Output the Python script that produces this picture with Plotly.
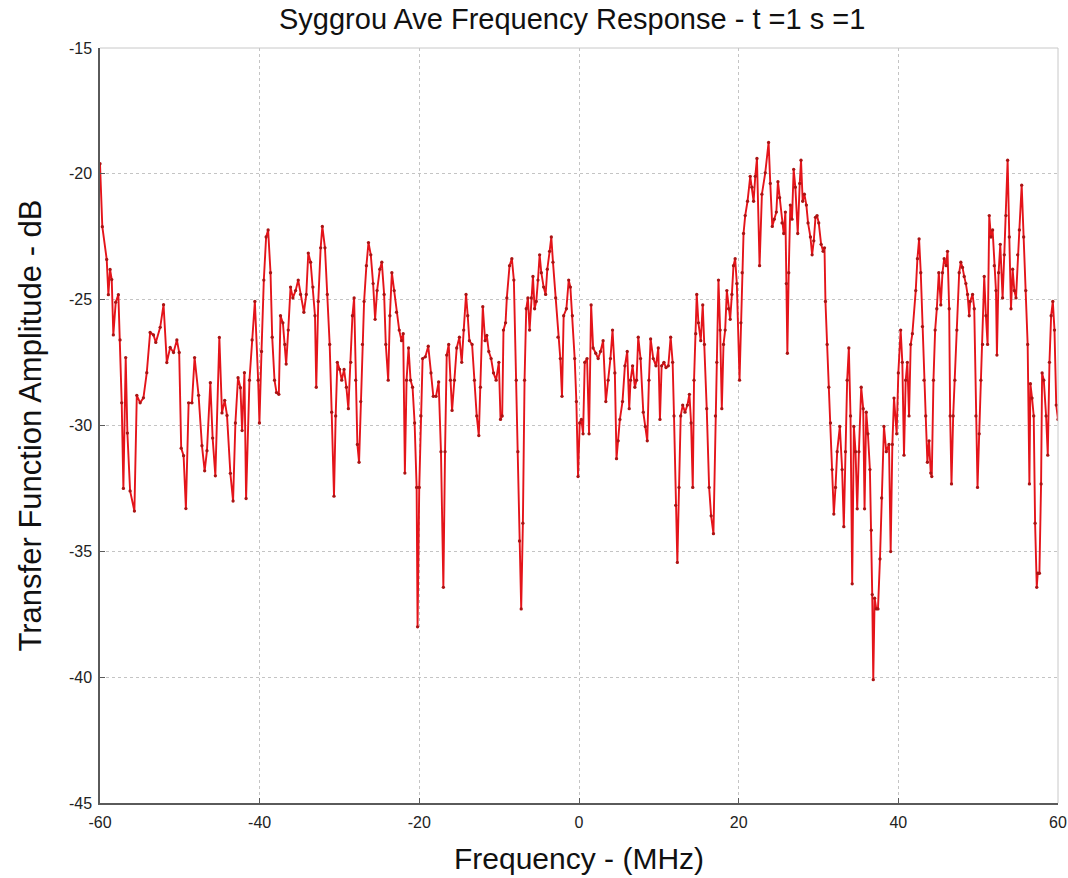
import plotly.graph_objects as go

# Frequency response samples (MHz, dB), grouped by 20 MHz band
freq_a = [-60.00, -59.71, -59.16, -58.95, -58.74, -58.53, -58.33, -58.03, -57.70, -57.49,
          -57.28, -57.07, -56.78, -56.57, -56.23, -55.69, -55.39, -54.97, -54.56, -54.14,
          -53.72, -53.30, -53.01, -52.46, -52.04, -51.63, -51.21, -50.79, -50.37, -50.08,
          -49.83, -49.53, -49.24, -48.90, -48.48, -48.15, -47.65, -47.23, -46.89, -46.60,
          -46.18, -45.89, -45.55, -45.05, -44.72, -44.38, -44.09, -43.67, -43.33, -43.04,
          -42.71, -42.41, -42.20, -41.91, -41.70, -41.28, -40.95]
amp_a = [-19.6, -22.1, -23.4, -24.8, -23.8, -24.2, -26.4, -25.1, -24.8, -26.6,
         -29.1, -32.5, -27.3, -30.3, -32.6, -33.4, -28.8, -29.1, -28.9, -27.9,
         -26.3, -26.4, -26.7, -26.1, -25.2, -27.5, -26.9, -27.1, -26.6, -27.1,
         -30.9, -31.2, -33.3, -29.1, -29.1, -27.3, -28.8, -30.8, -31.8, -31.0,
         -28.3, -30.5, -32.0, -26.5, -29.5, -29.0, -29.6, -31.9, -33.0, -29.9,
         -28.1, -28.5, -30.2, -27.9, -32.9, -28.2, -26.6]

freq_b = [-40.60, -40.19, -40.03, -39.77, -39.48, -39.19, -38.94, -38.64, -38.43, -38.14,
          -37.89, -37.60, -37.39, -37.09, -36.84, -36.68, -36.42, -36.13, -35.84, -35.50,
          -35.17, -34.88, -34.46, -34.16, -33.91, -33.62, -33.33, -33.07, -32.91, -32.66,
          -32.36, -32.15, -31.82, -31.53, -31.23, -30.98, -30.69, -30.48, -30.27, -29.98,
          -29.72, -29.43, -29.14, -28.89, -28.59, -28.38, -28.17, -27.97, -27.76, -27.55,
          -27.34, -27.13, -26.92, -26.63, -26.37, -26.08, -25.79, -25.54, -25.29, -24.95,
          -24.70, -24.41, -24.20, -23.90, -23.69, -23.44, -23.15, -22.86, -22.52, -22.23,
          -22.02, -21.81, -21.60, -21.35, -21.10, -20.85, -20.59, -20.34]
amp_b = [-25.07, -28.20, -29.90, -27.06, -24.22, -22.51, -22.23, -23.93, -26.49, -28.20,
         -28.69, -28.76, -25.64, -25.92, -26.78, -27.56, -26.21, -24.50, -24.93, -24.64,
         -24.22, -24.79, -25.50, -24.79, -23.15, -23.51, -24.50, -25.64, -28.48, -25.07,
         -22.94, -22.09, -22.94, -24.79, -26.78, -29.47, -32.81, -29.62, -27.49, -27.77,
         -28.20, -27.77, -28.48, -29.33, -27.49, -25.64, -24.93, -28.20, -30.75, -31.46,
         -29.05, -26.78, -25.07, -23.65, -22.73, -23.22, -24.36, -25.78, -24.64, -23.79,
         -23.51, -24.79, -26.78, -28.20, -25.64, -23.93, -24.64, -25.50, -26.21, -26.63,
         -26.35, -31.89, -28.20, -26.92, -28.20, -28.48, -29.90, -32.46]

freq_c = [-20.22, -20.01, -19.80, -19.59, -19.25, -18.88, -18.54, -18.25, -17.91, -17.58,
          -17.29, -16.99, -16.78, -16.57, -16.32, -16.11, -15.90, -15.61, -15.32, -14.98,
          -14.69, -14.44, -14.15, -13.94, -13.73, -13.39, -13.10, -12.81, -12.55, -12.35,
          -12.05, -11.76, -11.55, -11.30, -11.01, -10.71, -10.38, -10.04, -9.83, -9.62,
          -9.46, -9.20, -9.04, -8.70, -8.41, -8.16, -7.86, -7.66, -7.45, -7.24,
          -7.03, -6.82, -6.61, -6.40, -6.19, -5.98, -5.77, -5.56, -5.35, -5.14,
          -4.93, -4.72, -4.43, -4.18, -3.97, -3.68, -3.47, -3.26, -2.92, -2.63,
          -2.34, -2.13, -1.92, -1.58, -1.29, -1.08, -0.83, -0.54, -0.33]
amp_c = [-38.00, -32.46, -29.62, -27.34, -27.27, -26.85, -27.91, -28.84, -28.84, -28.27,
         -31.04, -36.43, -31.04, -27.20, -26.78, -28.20, -29.40, -28.20, -26.92, -26.49,
         -27.49, -26.21, -24.79, -25.64, -26.63, -26.78, -28.20, -29.62, -30.40, -28.48,
         -25.28, -26.63, -26.42, -27.06, -27.34, -27.91, -28.20, -27.49, -29.76, -29.62,
         -26.21, -25.92, -24.93, -23.65, -23.37, -24.22, -28.20, -31.04, -34.59, -37.29,
         -33.88, -28.20, -25.36, -24.93, -26.21, -24.93, -24.08, -25.36, -25.07, -24.22,
         -23.22, -23.93, -24.50, -24.79, -23.79, -23.08, -22.51, -23.51, -24.93, -26.49,
         -27.34, -28.84, -25.64, -25.36, -24.22, -24.50, -25.64, -27.34, -29.05]

freq_d = [-0.12, 0.09, 0.30, 0.51, 0.72, 1.01, 1.26, 1.52, 1.77, 2.10,
          2.40, 2.69, 3.02, 3.36, 3.65, 3.94, 4.20, 4.49, 4.70, 4.91,
          5.12, 5.45, 5.75, 6.04, 6.29, 6.46, 6.71, 7.00, 7.21, 7.42,
          7.71, 8.05, 8.30, 8.55, 8.76, 8.97, 9.30, 9.64, 9.93, 10.14,
          10.35, 10.64, 10.90, 11.19, 11.48, 11.73, 11.90, 12.11, 12.32, 12.53,
          12.74, 12.99, 13.28, 13.58, 13.83, 14.04, 14.25, 14.41, 14.62, 14.75,
          14.96, 15.25, 15.50, 15.71, 16.00, 16.30, 16.55, 16.84, 17.09, 17.26,
          17.47, 17.68, 17.89, 18.10, 18.31, 18.52, 18.73, 18.94, 19.15, 19.35,
          19.56, 19.77]
amp_d = [-32.03, -29.90, -29.76, -30.33, -27.49, -27.34, -30.33, -25.21, -26.92, -27.13,
         -27.34, -27.06, -26.63, -29.05, -28.20, -27.34, -26.21, -27.91, -31.32, -30.61,
         -29.76, -29.05, -27.63, -27.06, -29.33, -28.20, -27.63, -28.48, -28.20, -26.49,
         -27.34, -29.47, -30.04, -30.61, -28.20, -26.56, -27.34, -27.63, -26.92, -29.76,
         -27.63, -27.49, -27.70, -27.63, -26.49, -27.49, -29.62, -33.17, -35.44, -32.46,
         -29.62, -29.19, -29.47, -29.19, -28.76, -29.90, -32.46, -28.20, -26.35, -24.79,
         -25.92, -26.63, -25.21, -26.78, -29.33, -32.46, -33.59, -34.30, -29.62, -27.49,
         -24.22, -26.21, -29.33, -26.78, -26.21, -24.64, -25.36, -25.78, -24.79, -23.65,
         -23.37, -24.36]

freq_e = [20.11, 20.28, 20.44, 20.61, 20.82, 21.11, 21.45, 21.66, 21.87, 22.08,
          22.29, 22.62, 22.91, 23.33, 23.75, 23.96, 24.21, 24.46, 24.72, 24.92,
          25.13, 25.43, 25.64, 25.85, 25.97, 26.10, 26.27, 26.47, 26.68, 26.89,
          27.10, 27.40, 27.65, 27.81, 28.02, 28.23, 28.48, 28.69, 28.99, 29.20,
          29.41, 29.62, 29.82, 30.03, 30.33, 30.58, 30.75, 30.87, 31.08, 31.29,
          31.50, 31.71, 31.92, 32.13, 32.34, 32.67, 32.96, 33.17, 33.38, 33.59,
          33.80, 34.01, 34.22, 34.43, 34.64, 34.85, 35.06, 35.35, 35.60, 35.77,
          35.98, 36.19, 36.44, 36.61, 36.73, 36.86, 37.03, 37.24, 37.45, 37.70,
          37.91, 38.20, 38.49, 38.83, 39.04, 39.25, 39.46, 39.79, 40.00, 40.29]
amp_e = [-28.20, -25.92, -23.93, -22.37, -21.66, -21.09, -20.10, -20.53, -21.09, -20.10,
         -19.39, -23.65, -20.81, -19.96, -18.75, -20.38, -22.09, -21.80, -21.52, -20.31,
         -20.95, -21.95, -22.37, -21.52, -24.36, -27.13, -23.93, -21.24, -21.80, -19.82,
         -20.53, -22.37, -20.38, -19.46, -21.09, -20.81, -21.24, -21.95, -22.51, -23.22,
         -22.66, -21.73, -21.66, -21.95, -22.80, -23.08, -22.94, -25.07, -26.78, -28.48,
         -29.90, -31.75, -33.52, -32.46, -31.04, -30.04, -31.75, -34.02, -31.04, -28.20,
         -26.92, -29.62, -36.29, -30.04, -31.04, -33.31, -31.04, -28.48, -29.33, -33.31,
         -29.47, -30.33, -31.75, -34.16, -36.72, -40.10, -36.86, -37.29, -37.29, -35.30,
         -32.88, -30.04, -31.04, -30.75, -35.01, -30.75, -28.91, -30.33, -27.91, -26.21]

freq_f = [40.50, 40.71, 40.92, 41.13, 41.34, 41.55, 41.76, 42.18, 42.39, 42.60,
          42.81, 43.02, 43.22, 43.43, 43.64, 43.85, 44.06, 44.19, 44.40, 44.61,
          44.82, 45.07, 45.32, 45.53, 45.74, 45.99, 46.16, 46.37, 46.49, 46.66,
          46.87, 47.08, 47.33, 47.62, 47.83, 48.04, 48.25, 48.46, 48.67, 48.88,
          49.00, 49.30, 49.51, 49.72, 49.92, 50.13, 50.34, 50.55, 50.76, 50.97,
          51.18, 51.39, 51.60, 51.81, 52.02, 52.23, 52.35, 52.56, 52.77, 53.06,
          53.27, 53.48, 53.69, 53.90, 54.11, 54.32, 54.53, 54.74, 54.95, 55.16,
          55.45, 55.70, 55.96, 56.20, 56.42, 56.54, 56.75, 56.96, 57.13, 57.34,
          57.46, 57.67, 57.88, 58.01, 58.22, 58.51, 58.72, 58.93, 59.14, 59.35,
          59.56, 59.78, 60.00]
amp_f = [-27.49, -31.18, -28.20, -27.49, -29.62, -26.78, -26.35, -24.64, -23.37, -22.59,
         -23.93, -26.07, -28.20, -29.62, -31.46, -30.61, -31.89, -32.03, -28.20, -26.21,
         -25.36, -23.93, -25.21, -23.93, -23.37, -23.65, -23.08, -25.36, -29.62, -32.32,
         -29.62, -28.20, -26.21, -23.93, -23.51, -23.72, -24.08, -24.36, -24.79, -25.64,
         -25.07, -24.79, -25.36, -29.62, -32.46, -30.33, -28.20, -26.78, -24.08, -25.64,
         -26.78, -21.66, -22.51, -22.23, -23.65, -24.64, -27.20, -23.93, -22.80, -24.93,
         -23.22, -21.66, -19.46, -22.51, -25.36, -23.79, -24.64, -24.93, -23.22, -22.23,
         -20.45, -22.51, -24.64, -26.78, -32.32, -28.34, -28.91, -29.62, -33.88, -36.43,
         -35.87, -35.87, -32.32, -27.91, -28.20, -29.62, -31.18, -27.49, -25.64, -25.07,
         -26.21, -29.19, -29.76]

x_ticks = [-60, -40, -20, 0, 20, 40, 60]
y_ticks = [-45, -40, -35, -30, -25, -20, -15]

freq = freq_a + freq_b + freq_c + freq_d + freq_e + freq_f
amp = amp_a + amp_b + amp_c + amp_d + amp_e + amp_f

font_main = "Liberation Sans Narrow, Arial Narrow, Liberation Sans, Arial, sans-serif"

fig = go.Figure()
fig.add_trace(go.Scatter(
    x=freq, y=amp, mode="lines+markers",
    line=dict(color="rgb(228,20,26)", width=1.9),
    marker=dict(color="rgb(170,20,20)", size=3.3),
    showlegend=False, hoverinfo="x+y",
))

axis_common = dict(
    showgrid=True, gridcolor="#c4c4c4", griddash="dot", gridwidth=1,
    zeroline=False, showline=True, linecolor="#5a5a5a", linewidth=1.5,
    ticks="inside", ticklen=5, tickcolor="#5a5a5a",
    tickfont=dict(family=font_main, size=16, color="#222222"),
    ticklabeloverflow="allow", automargin=False,
)

fig.update_xaxes(range=[-60, 60], tickvals=x_ticks,
                 ticktext=[str(v) for v in x_ticks], ticklabelstandoff=4,
                 **axis_common)
fig.update_yaxes(range=[-45, -15], tickvals=y_ticks,
                 ticktext=[str(v) for v in y_ticks], ticklabelstandoff=3,
                 **axis_common)

# light frame on top and right
fig.add_shape(type="line", xref="paper", yref="paper", x0=0, x1=1, y0=1, y1=1,
              line=dict(color="#c8c8c8", width=1))
fig.add_shape(type="line", xref="paper", yref="paper", x0=1, x1=1, y0=0, y1=1,
              line=dict(color="#c8c8c8", width=1))

fig.add_annotation(text="Syggrou Ave Frequency Response - t =1 s =1",
                   xref="paper", yref="paper", x=0.5, y=1, yshift=29, xshift=-7,
                   xanchor="center", yanchor="middle", showarrow=False,
                   font=dict(family=font_main, size=29, color="#111111"))
fig.add_annotation(text="Frequency - (MHz)",
                   xref="paper", yref="paper", x=0.5, y=0, yshift=-55,
                   xanchor="center", yanchor="middle", showarrow=False,
                   font=dict(family=font_main, size=30, color="#111111"))
fig.add_annotation(text="Transfer Function Amplitude - dB",
                   xref="paper", yref="paper", x=0, y=0.5, xshift=-70,
                   xanchor="center", yanchor="middle", showarrow=False, textangle=-90,
                   font=dict(family=font_main, size=31, color="#111111"))

fig.update_layout(
    width=1068, height=878,
    margin=dict(l=100, r=10, t=48, b=75),
    paper_bgcolor="white", plot_bgcolor="white",
)

fig.write_html("out.html")
